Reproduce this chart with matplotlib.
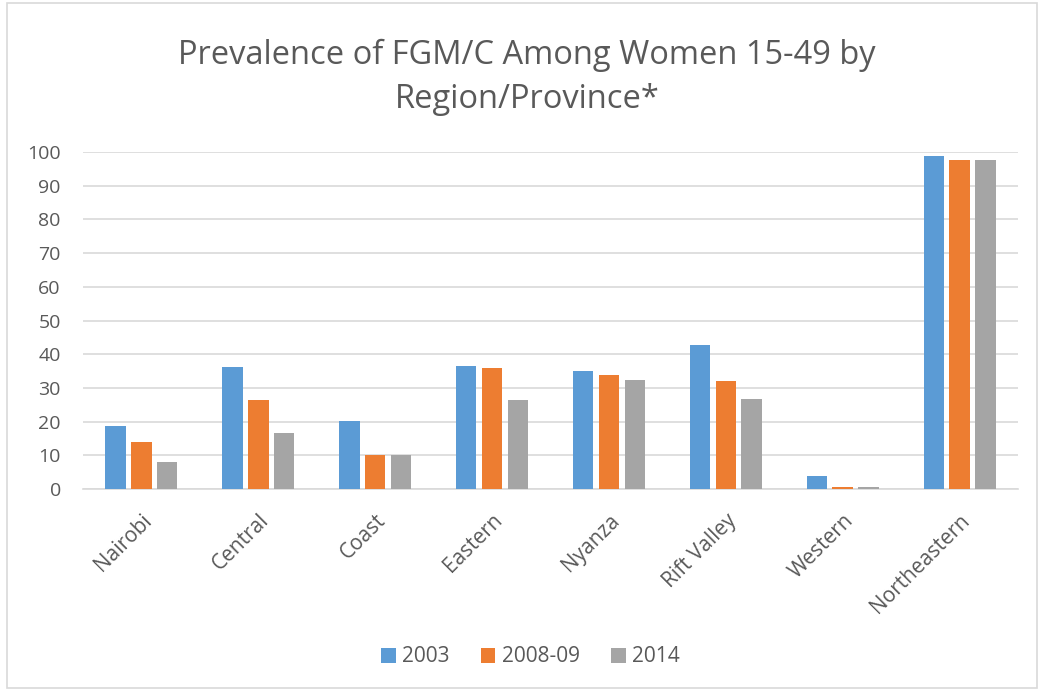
import numpy as np
import matplotlib
matplotlib.use("Agg")
import matplotlib.pyplot as plt
from matplotlib.patches import Rectangle

# data
regions = ["Nairobi", "Central", "Coast", "Eastern", "Nyanza", "Rift Valley", "Western", "Northeastern"]
series_names = ["2003", "2008-09", "2014"]
vals_2003 = [18.6, 36.2, 20.2, 36.4, 35.0, 42.8, 4.0, 98.8]
vals_2008 = [13.9, 26.5, 10.0, 35.8, 33.7, 32.0, 0.7, 97.5]
vals_2014 = [8.0, 16.5, 10.2, 26.3, 32.3, 26.8, 0.7, 97.5]

colors = ["#5B9BD5", "#ED7D31", "#A5A5A5"]
text_col = "#595959"
grid_col = "#D9D9D9"

plt.rcParams["font.family"] = ["Open Sans", "DejaVu Sans"]

W, H = 1040, 691
fig = plt.figure(figsize=(W / 100, H / 100), dpi=100)
ax = fig.add_axes([83 / W, 1 - 489 / H, (1018 - 83) / W, (489 - 152) / H])

# chart frame
fig.patches.append(Rectangle((7 / W, 3 / H), (1037 - 7) / W, (688 - 3) / H,
                             transform=fig.transFigure, fill=False,
                             edgecolor=grid_col, linewidth=1.2))

x = np.arange(len(regions))
bw = 0.175
step = 0.221
for i, (vals, name) in enumerate(zip([vals_2003, vals_2008, vals_2014], series_names)):
    ax.bar(x + (i - 1) * step, vals, width=bw, color=colors[i], label=name, zorder=3)

ax.set_xlim(-0.5, len(regions) - 0.5)
ax.set_ylim(0, 100)
ax.set_yticks(np.arange(0, 101, 10))
ax.grid(axis="y", color=grid_col, linewidth=1.2, zorder=0)
for s in ["top", "right", "left"]:
    ax.spines[s].set_visible(False)
ax.spines["bottom"].set_color(grid_col)
ax.spines["bottom"].set_linewidth(1.2)
ax.tick_params(axis="both", length=0, labelsize=14, colors=text_col)
ax.tick_params(axis="y", pad=16)
ax.set_xticks(x)
ax.set_xticklabels(regions, rotation=45, ha="right", rotation_mode="anchor", fontsize=15)
ax.tick_params(axis="x", pad=15)

fig.text(0.507, 1 - 55 / H, "Prevalence of FGM/C Among Women 15-49 by", ha="center", va="center",
         fontsize=23.5, color=text_col)
fig.text(0.507, 1 - 100 / H, "Region/Province*", ha="center", va="center",
         fontsize=23.5, color=text_col)

fig.legend(loc="center", bbox_to_anchor=(0.51, 1 - 657 / H), ncol=3, frameon=False,
           fontsize=15, handlelength=0.7, handleheight=0.7, handletextpad=0.3,
           columnspacing=1.5, labelcolor=text_col)

fig.savefig("out.png", dpi=100)
